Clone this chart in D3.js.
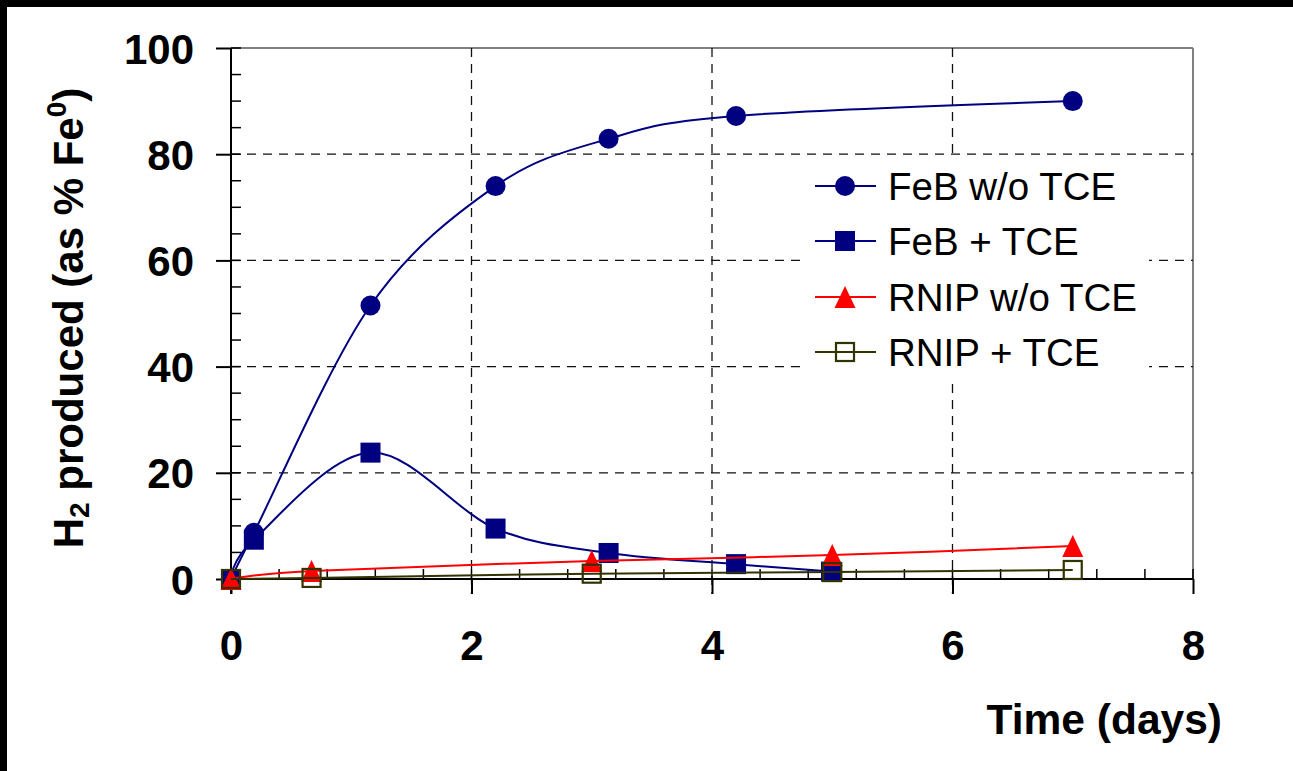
<!DOCTYPE html>
<html><head><meta charset="utf-8">
<script src="https://cdn.jsdelivr.net/npm/d3@7"></script>
<style>
html,body{margin:0;padding:0;background:#fff;}
svg{display:block;}
text{font-family:"Liberation Sans",Arial,sans-serif;}
</style></head>
<body>
<svg id="chart" width="1293" height="771"></svg>
<script>
// ---------- data ----------
const xTickValues = [0, 2, 4, 6, 8];
const yTickValues = [0, 20, 40, 60, 80, 100];
const seriesNames = ["FeB w/o TCE", "FeB + TCE", "RNIP w/o TCE", "RNIP + TCE"];

const daysFeBnoTCE = [0, 0.19, 1.16, 2.2, 3.14, 4.2, 7.0];
const h2FeBnoTCE   = [0, 8.7, 51.5, 74.0, 82.9, 87.2, 90.0];

const daysFeBTCE = [0, 0.19, 1.16, 2.2, 3.14, 4.2, 4.99];
const h2FeBTCE   = [0, 7.4, 23.8, 9.5, 4.9, 2.8, 1.4];

const daysRNIPnoTCE = [0, 0.67, 3.0, 5.0, 7.0];
const h2RNIPnoTCE   = [0, 1.5, 3.4, 4.5, 6.2];

const daysRNIPTCE = [0, 0.67, 3.0, 5.0, 7.0];
const h2RNIPTCE   = [0, 0.2, 1.0, 1.3, 1.7];

// ---------- layout ----------
const svg = d3.select("#chart");
const L = 231, R = 1193, T = 48, B = 579;
const x = d3.scaleLinear().domain([0, 8]).range([L, R]);
const y = d3.scaleLinear().domain([0, 100]).range([B, T]);

// black frame bars (top & left)
svg.append("rect").attr("x",0).attr("y",0).attr("width",1293).attr("height",7).attr("fill","#000");
svg.append("rect").attr("x",0).attr("y",0).attr("width",7).attr("height",771).attr("fill","#000");

// plot border (top, right) gray
svg.append("line").attr("x1",L).attr("x2",R).attr("y1",T).attr("y2",T).attr("stroke","#808080").attr("stroke-width",2);
svg.append("line").attr("x1",R).attr("x2",R).attr("y1",T).attr("y2",B).attr("stroke","#808080").attr("stroke-width",2);

// gridlines
const grid = svg.append("g").attr("stroke","#111").attr("stroke-width",1.3).attr("stroke-dasharray","9,7");
yTickValues.filter(v => v > 0 && v < 100).forEach(v => {
  grid.append("line").attr("x1",L).attr("x2",R).attr("y1",y(v)).attr("y2",y(v));
});
xTickValues.filter(v => v > 0 && v < 8).forEach(v => {
  grid.append("line").attr("x1",x(v)).attr("x2",x(v)).attr("y1",T).attr("y2",B+15);
});

// minor ticks
const minor = svg.append("g").attr("stroke","#000").attr("stroke-width",1.5);
d3.range(0, 100.01, 5).forEach(v => {
  minor.append("line").attr("x1",L).attr("x2",L+10).attr("y1",y(v)).attr("y2",y(v));
});
d3.range(0, 8.01, 0.4).forEach(v => {
  minor.append("line").attr("x1",x(v)).attr("x2",x(v)).attr("y1",B).attr("y2",B-10);
});

// axes via d3
const yAxis = d3.axisLeft(y).tickValues(yTickValues).tickSize(15).tickPadding(22).tickFormat(d3.format("d"));
const gy = svg.append("g").attr("transform",`translate(${L},0)`).call(yAxis);
const xAxis = d3.axisBottom(x).tickValues(xTickValues).tickSize(15).tickPadding(36).tickFormat(d3.format("d"));
const gx = svg.append("g").attr("transform",`translate(0,${B})`).call(xAxis);
[gx, gy].forEach(g => {
  g.select(".domain").remove();
  g.selectAll(".tick line").attr("stroke","#000").attr("stroke-width",2);
  g.selectAll(".tick text").attr("fill","#000").attr("font-size",42).attr("font-weight","bold")
    .attr("font-family",'"Liberation Sans",Arial,sans-serif');
});
gy.selectAll(".tick text").attr("dy","0.36em");
gx.selectAll(".tick text").attr("dy","0.71em");
// axis lines
svg.append("line").attr("x1",L).attr("x2",L).attr("y1",T).attr("y2",B+15).attr("stroke","#000").attr("stroke-width",2);
svg.append("line").attr("x1",L).attr("x2",R).attr("y1",B).attr("y2",B).attr("stroke","#000").attr("stroke-width",2);

// ---------- series ----------
const series = [
  {name: seriesNames[0], xs: daysFeBnoTCE, ys: h2FeBnoTCE, color: "#000080", marker: "circle"},
  {name: seriesNames[1], xs: daysFeBTCE, ys: h2FeBTCE, color: "#000080", marker: "square"},
  {name: seriesNames[2], xs: daysRNIPnoTCE, ys: h2RNIPnoTCE, color: "#FF0000", marker: "triangle"},
  {name: seriesNames[3], xs: daysRNIPTCE, ys: h2RNIPTCE, color: "#333300", marker: "open"}
];
const line = d3.line().x(d => x(d[0])).y(d => y(d[1])).curve(d3.curveCardinal.tension(0));

function drawMarker(g, type, cx, cy, color) {
  if (type === "circle") {
    g.append("circle").attr("cx",cx).attr("cy",cy).attr("r",10).attr("fill",color);
  } else if (type === "square") {
    g.append("rect").attr("x",cx-10).attr("y",cy-10).attr("width",20).attr("height",20).attr("fill",color);
  } else if (type === "triangle") {
    g.append("path").attr("d",`M${cx},${cy-11}L${cx+10.5},${cy+11}L${cx-10.5},${cy+11}Z`).attr("fill",color);
  } else {
    g.append("rect").attr("x",cx-9).attr("y",cy-9).attr("width",18).attr("height",18)
      .attr("fill","none").attr("stroke",color).attr("stroke-width",2.2);
  }
}

series.forEach(s => {
  const pts = s.xs.map((d, i) => [d, s.ys[i]]);
  const g = svg.append("g");
  g.append("path").attr("d", line(pts)).attr("fill","none").attr("stroke",s.color).attr("stroke-width",2);
  pts.forEach(p => drawMarker(g, s.marker, x(p[0]), y(p[1]), s.color));
});

// ---------- legend ----------
const lg = svg.append("g");
lg.append("rect").attr("x",804).attr("y",156).attr("width",345).attr("height",228).attr("fill","#fff");
const rowY = [186, 241, 297, 352];
series.forEach((s, i) => {
  const cy = rowY[i];
  lg.append("line").attr("x1",815).attr("x2",876).attr("y1",cy).attr("y2",cy).attr("stroke",s.color).attr("stroke-width",2);
  drawMarker(lg, s.marker, 845, cy, s.color);
  lg.append("text").attr("x",888).attr("y",cy).attr("dy","0.36em").attr("font-size",38.5).attr("fill","#000").text(s.name);
});

// ---------- axis titles ----------
svg.append("text").attr("x",1222).attr("y",734).attr("text-anchor","end")
  .attr("font-size",42.5).attr("font-weight","bold").attr("fill","#000").text("Time (days)");

const yt = svg.append("text").attr("transform","translate(83,318) rotate(-90)").attr("text-anchor","middle")
  .attr("font-size",42).attr("font-weight","bold").attr("fill","#000");
yt.append("tspan").text("H");
yt.append("tspan").attr("font-size",28).attr("dy",6).text("2");
yt.append("tspan").attr("dy",-6).text(" produced (as % Fe");
yt.append("tspan").attr("font-size",28).attr("dy",-17).text("0");
yt.append("tspan").attr("dy",17).text(")");
</script>
</body></html>
